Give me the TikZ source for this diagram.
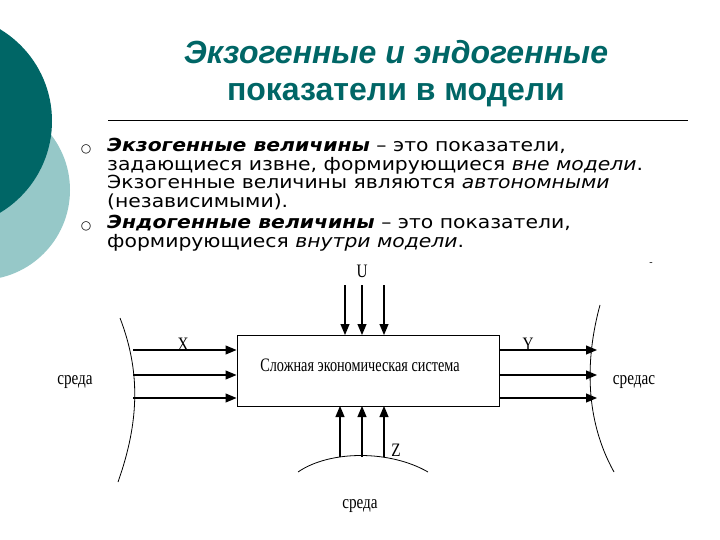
\documentclass[tikz,border=0pt]{standalone}
\usepackage{fontspec}
\setmainfont{Liberation Serif}
\newfontfamily\verd{DejaVu Sans}
\newfontfamily\arialf{Liberation Sans}
\usetikzlibrary{arrows.meta}
\definecolor{teal1}{RGB}{0,102,102}
\definecolor{teal2}{RGB}{150,200,200}
\begin{document}
\begin{tikzpicture}[x=1pt,y=-1pt,
  arr/.style={-{Triangle[length=11pt,width=9pt]},line width=1.2pt},
  lbl/.style={font=\fontsize{19}{19}\selectfont\addfontfeature{FakeStretch=0.8}},
  env/.style={line width=0.8pt},
  body/.style={font=\verd\fontsize{18}{18.5}\selectfont\addfontfeature{FakeStretch=1.13},anchor=north west,align=left,inner sep=0}]
\useasboundingbox (0,0) rectangle (720,540);
\fill[teal2] (-20,190) circle (90);
\fill[teal1] (-55,121) circle (107);
\node[font=\arialf\bfseries\itshape\fontsize{32}{37}\selectfont,text=teal1,align=center] (title) at (396,74) {Экзогенные и эндогенные\\\upshape показатели в модели};
\draw[line width=0.7pt] (108,120) -- (688,120);
\node[font=\verd\fontsize{12}{12}\selectfont] (b1) at (86,149) {○};
\node[font=\verd\fontsize{12}{12}\selectfont] (b2) at (86,226) {○};
\node[body] (t1) at (107,138) {\textbf{\textit{Экзогенные величины}} – это показатели,\\задающиеся извне, формирующиеся \textit{вне модели}.\\Экзогенные величины являются \textit{автономными}\\(независимыми).};
\node[body] (t2) at (107,215) {\textbf{\textit{Эндогенные величины}} – это показатели,\\формирующиеся \textit{внутри модели}.};
\node[draw,line width=1pt,minimum width=262pt,minimum height=71pt,inner sep=0] (sys) at (368,370.5) {};
\node[lbl,font=\fontsize{19}{19}\selectfont\addfontfeature{FakeStretch=0.75}] (st) at (360,365) {Сложная экономическая система};
\foreach \y in {350,375,398}{\coordinate (l\y) at (133,\y); \draw[arr] (l\y) -- (sys.west |- 0,\y);}
\foreach \y in {350,375,398}{\coordinate (r\y) at (597,\y); \draw[arr] (sys.east |- 0,\y) -- (r\y);}
\foreach \x in {345,362,384}{\coordinate (u\x) at (\x,285); \draw[arr] (u\x) -- (\x,335);}
\foreach \x in {340,362,384}{\coordinate (d\x) at (\x,457); \draw[arr] (d\x) -- (\x,406);}
\draw[env] (120,318) .. controls (140,370) and (140,420) .. (118,482);
\draw[env] (600,305) .. controls (585,360) and (585,420) .. (614,472);
\draw[env] (298,472) .. controls (330,450) and (390,450) .. (428,472);
\node[lbl] (X) at (183,344) {X};
\node[lbl] (Y) at (528,344) {Y};
\node[lbl] (U) at (362,271) {U};
\node[lbl] (Z) at (396,450) {Z};
\node[lbl] (e1) at (75,382) {среда};
\node[lbl] (e2) at (634,382) {средас};
\node[lbl] (e3) at (360,506) {среда};
\node[font=\fontsize{10}{10}\selectfont] (dash) at (651,264) {-};
\end{tikzpicture}
\end{document}
